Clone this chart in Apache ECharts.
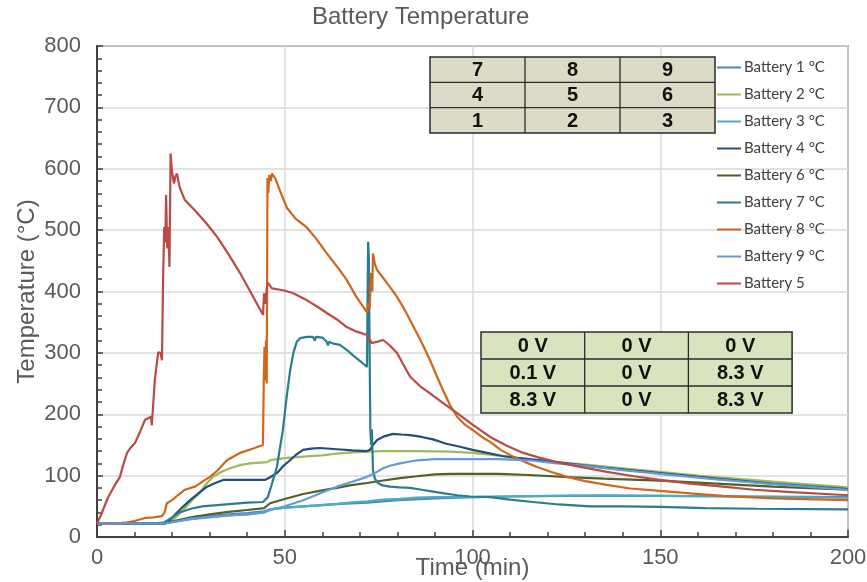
<!DOCTYPE html>
<html>
<head>
<meta charset="utf-8">
<script src="https://cdn.jsdelivr.net/npm/echarts@6/dist/echarts.min.js"></script>
<style>
  html, body { margin: 0; padding: 0; background: #fff; }
  #chart { width: 867px; height: 582px; }
</style>
</head>
<body>
<div id="chart"></div>
<script>
// Temperature traces, [time (min), temperature (°C)]
const battery1 = [[0,22],[18,22],[20,25],[25,30],[30,34],[35,37],[40,39],[44.5,42],[46.1,45],[50,48],[55,50],[60,52],[65,54],[72,56],[80,60],[90,63],[100,65],[110,66],[125,67],[150,67],[175,66],[200,65]];
const battery2 = [[0,22],[18,22],[20,26],[22.9,44],[25,58],[27.4,72],[29,86],[30.9,98],[33,106],[35.4,112],[38,117],[40.7,120],[45.3,122],[46.1,125],[48,127],[50.6,129],[54.9,131],[60,133],[63.9,136],[68,138],[71.9,139],[76.2,140],[85,140],[94,139],[100,137],[104.7,134],[110,130],[116,126],[122.5,122],[130,118],[140,112],[149.9,106],[160,100],[170,95],[185,88],[200,81]];
const battery3 = [[0,22],[18,22],[20,24],[25,29],[30,32],[35,35],[40,37],[44.5,40],[46.1,45],[50,48],[55,50],[63.9,54],[67.3,56],[72,58],[76.2,61],[80.7,62],[85.2,64],[90,65],[100,65],[107,66],[120,67],[134,68],[150,67],[169,66],[200,64]];
const battery4 = [[0,22],[18,22],[19.5,28],[21.3,40],[23,50],[24.8,60],[27,71],[29.3,82],[31.5,88],[33.6,93],[38.1,93],[40.7,93],[44.7,93],[46,97],[47.9,104],[49.5,115],[51.4,125],[53,134],[54.9,142],[57,144],[59.4,145],[63.9,143],[68,141],[71.9,140],[72.7,142],[73.5,150],[74.6,158],[76.5,164],[78.8,168],[81,167],[83.4,166],[86.5,163],[89.5,159],[93,152],[96.7,147],[100,142],[103.9,137],[108,132],[111.9,129],[118,125],[125,120],[135,113],[149.9,104],[165,95],[180,87],[200,78]];
const battery6 = [[0,22],[18,22],[20,25],[25,32],[30,37],[35,41],[40,44],[44.5,47],[46.1,55],[50,62],[54.9,70],[60,76],[63.9,80],[67.3,84],[71.9,88],[76.2,92],[80.7,96],[85.2,99],[90,102],[94,103],[100,103],[107,103],[115,101],[126.8,97],[135,95],[149.9,92],[165,87],[180,82],[200,77]];
const battery7 = [[0,22],[15,22],[18,24],[20,32],[22,40],[25,46],[28,50],[32,52],[36,54],[40,56],[44.2,57],[45.5,65],[46.5,85],[47.9,114],[49.5,174],[50.5,228],[51.4,270],[52.3,300],[53.2,318],[54.1,324],[56,326],[57.5,326],[58,320],[58.3,326],[60,325],[61.2,318],[61.5,312],[61.8,318],[63,315],[64.7,313],[66.5,305],[68.2,296],[70,287],[71.9,277],[72.1,420],[72.2,481],[72.4,455],[72.6,300],[72.8,174],[73.0,150],[73.2,175],[73.5,109],[74,95],[74.8,88],[76,84],[78,82],[80.5,81],[83.4,80],[86.5,77],[89.5,74],[92.5,71],[95.9,68],[99.5,66],[104.7,65],[110,61],[116.1,57],[123,53],[131.3,50],[140,50],[149.9,49],[162,47],[175.8,46],[200,45]];
const battery8 = [[0,22],[5,22],[8,24],[10,26],[12.8,31],[15,32],[17.3,34],[18.0,40],[18.6,55],[20,60],[21.5,68],[23.4,77],[26.1,82],[28.8,93],[30.1,98],[32,108],[34.6,125],[36,130],[38.1,137],[41,143],[44.2,150],[44.4,250],[44.6,310],[44.8,255],[45.0,320],[45.2,250],[45.4,585],[45.6,560],[45.9,590],[46.3,580],[46.6,592],[47.5,584],[49,560],[50.6,536],[53,518],[55.8,505],[58.5,485],[61.2,462],[64,440],[66.5,419],[69,392],[71.9,366],[72.2,380],[72.6,372],[73.0,430],[73.3,400],[73.5,462],[74.0,445],[74.6,435],[77.2,414],[79.5,395],[81.5,375],[83.5,352],[85.2,332],[87,310],[88.7,288],[90.5,262],[92.1,240],[94,215],[95.9,196],[98,183],[100.1,174],[102.5,163],[104.7,155],[107.5,142],[110.8,131],[114,122],[117.2,114],[121,106],[125.2,98],[130,91],[135.8,85],[142,79],[149.9,75],[158,71],[166.7,67],[180,63],[200,60]];
const battery9 = [[0,22],[18,22],[20,24],[25,30],[30,33],[35,35],[40,37],[44.5,40],[46.1,44],[50,50],[54.9,60],[59,70],[63.9,82],[68,90],[71.9,98],[74,104],[76.2,112],[78,116],[80.7,120],[85.2,125],[90,127],[94,127],[107,127],[115,125],[122.5,120],[130,116],[140,109],[149.9,103],[165,94],[180,86],[200,77]];
const battery5 = [[0,22],[1,35],[2.9,64],[4.5,82],[6.1,98],[7,118],[8,137],[9,146],[10.1,153],[11.5,172],[12.8,191],[14.4,196],[14.6,182],[15.4,256],[16.3,301],[16.9,300],[17.3,288],[17.6,418],[17.9,505],[18.2,480],[18.4,557],[18.7,470],[19.0,505],[19.3,440],[19.6,625],[19.9,598],[20.5,576],[20.9,588],[21.3,592],[22,570],[23.4,549],[26.1,532],[29,512],[32,489],[35,461],[38.1,430],[41,398],[44.2,362],[44.5,397],[44.8,380],[45.3,410],[45.5,414],[46.6,405],[49.5,402],[52,398],[55.8,386],[58.5,376],[61.2,365],[64,354],[66.5,342],[69,335],[71.9,329],[73.2,316],[74.5,318],[76.2,321],[78,312],[79.9,300],[81.5,282],[83.4,261],[86,246],[88.7,234],[92,219],[95.9,202],[100,183],[104.7,163],[109,149],[113.5,137],[118,129],[122.5,122],[128,115],[135.8,106],[143,99],[149.9,93],[158,87],[166.7,82],[175,77],[185,73],[200,68]];

// Series names and colours, in legend order
const seriesNames = ['Battery 1 °C','Battery 2 °C','Battery 3 °C','Battery 4 °C','Battery 6 °C','Battery 7 °C','Battery 8 °C','Battery 9 °C','Battery 5'];
const seriesColors = ['#4f81bd','#9bbb59','#4bacc6','#264d7c','#4f6228','#2b7d8e','#cf661b','#6699d8','#b94a47'];
const seriesData = [battery1, battery2, battery3, battery4, battery6, battery7, battery8, battery9, battery5];

// Cell layout and cell voltage tables
const cellLayout = [['7','8','9'],['4','5','6'],['1','2','3']];
const cellVoltage = [['0 V','0 V','0 V'],['0.1 V','0 V','8.3 V'],['8.3 V','0 V','8.3 V']];

// Axis ticks
const xTicks = [0, 50, 100, 150, 200];
const yTicks = [0, 100, 200, 300, 400, 500, 600, 700, 800];

const baseFont = '"Liberation Sans", Arial, sans-serif';

function buildTable(rows, x, y, colW, rowH, fill) {
  const children = [];
  const w = colW * rows[0].length, h = rowH * rows.length;
  children.push({ type: 'rect', z: 100, shape: { x: x, y: y, width: w, height: h },
    style: { fill: fill, stroke: '#2b2b2b', lineWidth: 1.5 } });
  for (let r = 1; r < rows.length; r++) {
    children.push({ type: 'line', z: 101, shape: { x1: x, y1: y + r * rowH, x2: x + w, y2: y + r * rowH },
      style: { stroke: '#2b2b2b', lineWidth: 1.3 } });
  }
  for (let c = 1; c < rows[0].length; c++) {
    children.push({ type: 'line', z: 101, shape: { x1: x + c * colW, y1: y, x2: x + c * colW, y2: y + h },
      style: { stroke: '#2b2b2b', lineWidth: 1.3 } });
  }
  rows.forEach((row, r) => row.forEach((txt, c) => {
    children.push({ type: 'text', z: 102,
      style: { text: txt, x: x + (c + 0.5) * colW, y: y + (r + 0.5) * rowH + 1,
        fill: '#111', fontFamily: baseFont, fontSize: 20, fontWeight: 'bold',
        align: 'center', verticalAlign: 'middle' } });
  }));
  return children;
}

const chart = echarts.init(document.getElementById('chart'), null, { renderer: 'canvas' });

chart.setOption({
  animation: false,
  backgroundColor: '#fff',
  title: {
    text: 'Battery Temperature',
    left: 307, top: 0,
    textStyle: { fontFamily: baseFont, fontSize: 24, fontWeight: 'normal', color: '#595959' }
  },
  grid: {
    left: 97, right: 19, top: 46, bottom: 45,
    outerBoundsMode: 'none', containLabel: false,
    show: true, borderColor: '#595959', borderWidth: 1.5, backgroundColor: 'transparent'
  },
  legend: {
    orient: 'vertical',
    left: 717, top: 60, padding: 0,
    itemWidth: 24, itemHeight: 14, itemGap: 12,
    icon: 'path://M0,6L24,6L24,8L0,8Z',
    textStyle: { fontFamily: 'Lato, "Open Sans", sans-serif', fontSize: 15, lineHeight: 14, color: '#404040', padding: [0, 0, 0, -2] },
    data: seriesNames
  },
  xAxis: {
    type: 'value',
    min: xTicks[0], max: xTicks[xTicks.length - 1], interval: 50,
    name: 'Time (min)', nameLocation: 'middle', nameGap: 19, nameMoveOverlap: false,
    nameTextStyle: { fontFamily: baseFont, fontSize: 24, color: '#595959', verticalAlign: 'top' },
    axisLine: { lineStyle: { color: '#404040', width: 2 } },
    axisTick: { inside: true, length: 7, lineStyle: { color: '#404040', width: 1.5 } },
    minorTick: { show: true, splitNumber: 5, length: 5, lineStyle: { color: '#404040', width: 1.5 } },
    axisLabel: { fontFamily: baseFont, fontSize: 22, color: '#595959', margin: 10 },
    splitLine: { show: true, lineStyle: { color: '#d9d9d9', width: 1.5 } }
  },
  yAxis: {
    type: 'value',
    min: yTicks[0], max: yTicks[yTicks.length - 1], interval: 100,
    name: 'Temperature (°C)', nameLocation: 'middle', nameGap: 58, nameMoveOverlap: false,
    nameTextStyle: { fontFamily: baseFont, fontSize: 24, color: '#595959' },
    axisLine: { show: true, lineStyle: { color: '#404040', width: 2 } },
    axisTick: { show: true, inside: true, length: 6, lineStyle: { color: '#404040', width: 1.5 } },
    minorTick: { show: true, splitNumber: 5, length: 5, lineStyle: { color: '#404040', width: 1.5 } },
    axisLabel: { fontFamily: baseFont, fontSize: 22, color: '#595959', margin: 16 },
    splitLine: { show: true, lineStyle: { color: '#d9d9d9', width: 1.5 } }
  },
  series: seriesNames.map((name, i) => ({
    name: name,
    type: 'line',
    data: seriesData[i],
    symbol: 'none',
    lineStyle: { color: seriesColors[i], width: 2.2 },
    itemStyle: { color: seriesColors[i] },
    emphasis: { disabled: true }
  })),
  graphic: [].concat(
    buildTable(cellLayout, 430, 57, 95, 25.3, '#dcdbc7'),
    buildTable(cellVoltage, 481, 332, 103.7, 27, '#d8e4bd')
  )
});
</script>
</body>
</html>
